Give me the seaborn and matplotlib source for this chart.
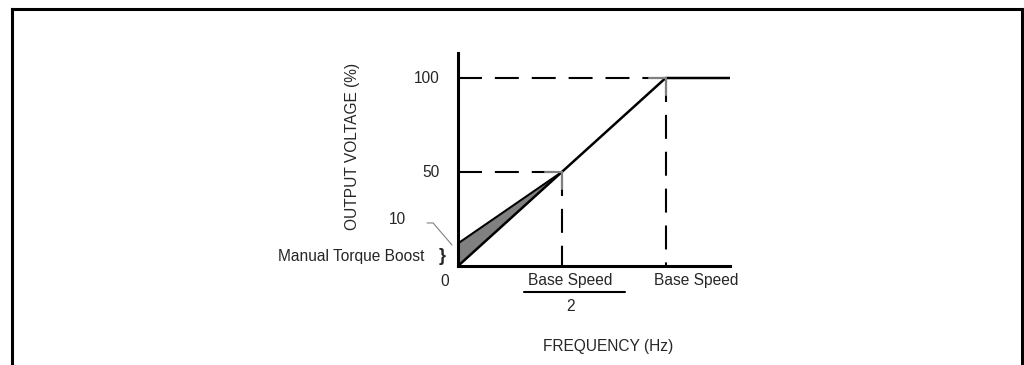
import matplotlib
matplotlib.use('Agg')
import matplotlib.pyplot as plt
from matplotlib.lines import Line2D
import pandas as pd
import seaborn as sns

# V/Hz curve (frequency as fraction of base speed, voltage in %)
freq = [0.0, 0.5, 1.0, 1.31]
volt = [0.0, 50.0, 100.0, 100.0]
# manual torque boost line
boost_freq = [0.0, 0.5]
boost_volt = [12.0, 50.0]
y_ticks = [100, 50]
y_tick_labels = ['100', '50']

curve = pd.DataFrame({'freq': freq, 'volt': volt})
boost = pd.DataFrame({'freq': boost_freq, 'volt': boost_volt})

sns.set_style('white')
plt.rcParams['font.family'] = ['Liberation Sans', 'DejaVu Sans']
plt.rcParams['font.size'] = 11.2

fig = plt.figure(figsize=(10.24, 3.65), dpi=100)

# outer frame (top, left, right; open at the bottom)
for xs, ys in [([0.0122, 0.9985], [0.9767, 0.9767]),
               ([0.0122, 0.0122], [0.0, 0.9767]),
               ([0.9985, 0.9985], [0.0, 0.9767])]:
    fig.add_artist(Line2D(xs, ys, color='black', lw=2.2,
                          solid_capstyle='projecting', transform=fig.transFigure))

ax = fig.add_axes([458 / 1024, 99 / 365, 272 / 1024, 213 / 365])
ax.set_xlim(0, 1.31)
ax.set_ylim(0, 113.3)
for s in ['top', 'right']:
    ax.spines[s].set_visible(False)
for s in ['left', 'bottom']:
    ax.spines[s].set_linewidth(2.2)
    ax.spines[s].set_color('black')
ax.set_xticks([])
ax.set_yticks([])

# shaded boost region
ax.fill_between(boost_freq, [0, 50], boost_volt, color='#808080', lw=0)

sns.lineplot(data=curve, x='freq', y='volt', ax=ax, color='black', lw=1.8,
             estimator=None, sort=False)
sns.lineplot(data=boost, x='freq', y='volt', ax=ax, color='black', lw=1.5,
             estimator=None, sort=False)
ax.set_xlabel('')
ax.set_ylabel('')

# dashed reference lines from the axes to the curve corners
dash = (0, (11.5, 6.2))
for fx, vy in [(freq[1], volt[1]), (freq[2], volt[2])]:
    ax.plot([0, fx], [vy, vy], color='black', lw=1.5, ls=dash, clip_on=False)
    ax.plot([fx, fx], [vy, 0], color='black', lw=1.5, ls=dash, clip_on=False)
    ax.plot([fx - 0.08, fx], [vy, vy], color='#808080', lw=1.5)
    ax.plot([fx, fx], [vy, vy - 9], color='#808080', lw=1.5)

# y tick labels
for v, lab in zip(y_ticks, y_tick_labels):
    ax.text(-0.09, v, lab, ha='right', va='center', clip_on=False)
ax.text(-0.0625, -8, '0', ha='center', va='center', clip_on=False)
ax.text(-0.25, 24.5, '10', ha='right', va='center', clip_on=False)
ax.plot([-0.149, -0.12, -0.029], [22.9, 22.9, 11.2], color='#808080', lw=0.8,
        clip_on=False)
ax.text(-0.163, 4.8, 'Manual Torque Boost', ha='right', va='center', clip_on=False)
ax.text(-0.077, 5.0, '}', ha='center', va='center', fontsize=13,
        fontweight='bold', clip_on=False)

ax.text(-0.51, 63.8, 'OUTPUT VOLTAGE (%)', rotation=90, ha='center',
        va='center', clip_on=False)

# x labels
ax.text(0.539, -7.5, 'Base Speed', ha='center', va='center', clip_on=False)
ax.plot([0.317, 0.803], [-13.8, -13.8], color='black', lw=1.5, clip_on=False)
ax.text(0.543, -21.3, '2', ha='center', va='center', clip_on=False)
ax.text(1.149, -7.5, 'Base Speed', ha='center', va='center', clip_on=False)
ax.text(0.721, -43, 'FREQUENCY (Hz)', ha='center', va='center', clip_on=False)

fig.savefig('out.png', dpi=100)
print('Saved out.png')
